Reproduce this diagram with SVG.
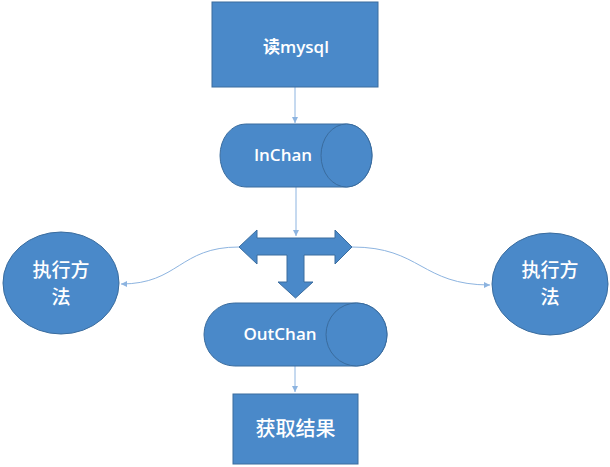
<svg xmlns="http://www.w3.org/2000/svg" width="610" height="467" viewBox="0 0 610 467">
<defs>
<style>
.n{fill:#4A89C9;stroke:#3A6C9E;stroke-width:1}
.t{fill:#fff;font-family:"Open Sans","Noto Sans CJK SC",sans-serif;font-weight:500;text-anchor:middle}
.b{font-weight:600}
.c{fill:none;stroke:#8DB4E0;stroke-width:1}
</style>
<marker id="a" markerWidth="8" markerHeight="8" refX="6" refY="3" orient="auto" markerUnits="userSpaceOnUse">
<path d="M0,0 L6,3 L0,6 Z" fill="#8DB4E0"/>
</marker>
</defs>
<rect width="610" height="467" fill="#fff"/>
<g id="connectors">
<path class="c" d="M295,87 L295,123" marker-end="url(#a)"/>
<path class="c" d="M296,187 L296,236" marker-end="url(#a)"/>
<path class="c" d="M239,247 C179,247 179,284 121,284" marker-end="url(#a)"/>
<path class="c" d="M352,247 C421,247 421,285 490,285" marker-end="url(#a)"/>
<path class="c" d="M295,366 L295,392" marker-end="url(#a)"/>
</g>
<g id="read">
<rect class="n" x="212" y="2" width="166" height="85"/>
<text class="t b" x="296" y="53" font-size="17">读mysql</text>
</g>
<g id="inchan">
<path class="n" d="M245.5,124 L346.5,124 A25.5,31.5 0 0 1 346.5,187 L245.5,187 A25.5,31.5 0 0 1 245.5,124 Z"/>
<ellipse class="n" cx="346.5" cy="155.5" rx="25.5" ry="31.5"/>
<text class="t b" x="283" y="161" font-size="17">InChan</text>
</g>
<g id="tarrow">
<path class="n" d="M239,247 L257,230 L257,238 L335,238 L335,230 L352,247 L335,264 L335,255 L304,255 L304,282 L313,282 L295.5,298 L278,282 L287,282 L287,255 L257,255 L257,264 Z"/>
</g>
<g id="left">
<ellipse class="n" cx="61" cy="283" rx="58" ry="51"/>
<text class="t" x="61" y="277" font-size="19">执行方</text>
<text class="t" x="61" y="304" font-size="19">法</text>
</g>
<g id="right">
<ellipse class="n" cx="550" cy="284" rx="58" ry="51"/>
<text class="t" x="550" y="277" font-size="19">执行方</text>
<text class="t" x="550" y="304" font-size="19">法</text>
</g>
<g id="outchan">
<path class="n" d="M234.5,303 L356.5,303 A30.5,31.5 0 0 1 356.5,366 L234.5,366 A30.5,31.5 0 0 1 234.5,303 Z"/>
<ellipse class="n" cx="356.5" cy="334.5" rx="30.5" ry="31.5"/>
<text class="t b" x="280" y="340" font-size="17">OutChan</text>
</g>
<g id="result">
<rect class="n" x="233" y="394" width="125" height="70"/>
<text class="t" x="295.5" y="436" font-size="20">获取结果</text>
</g>
</svg>
